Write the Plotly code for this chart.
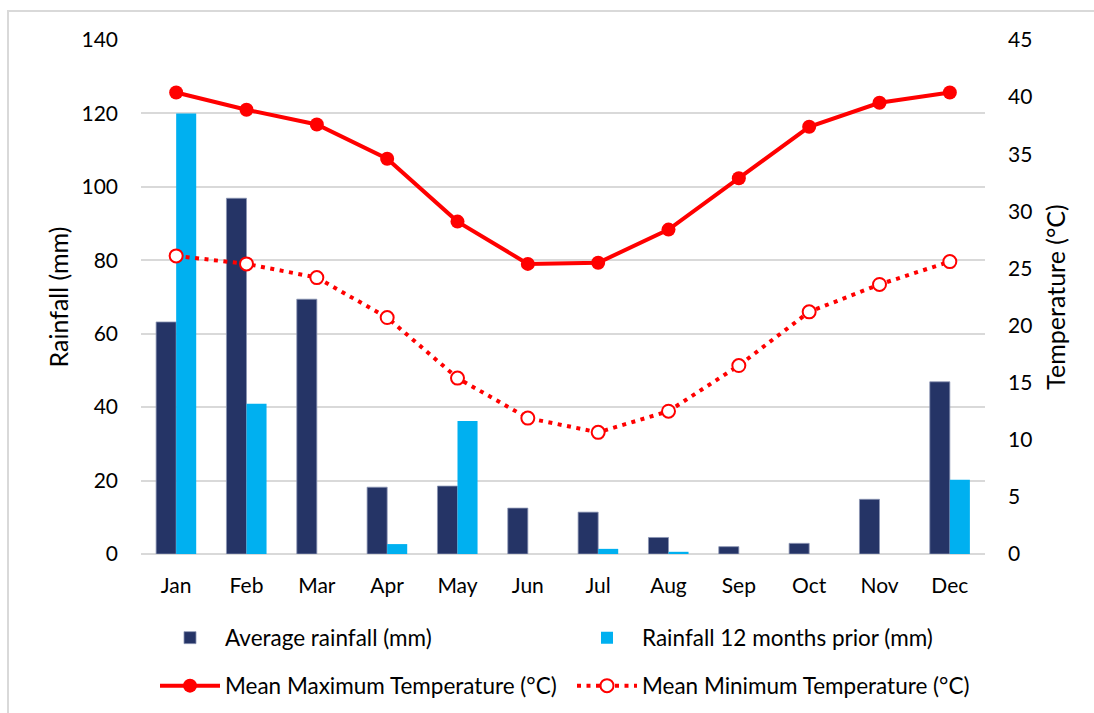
import plotly.graph_objects as go

# Monthly climate data
months = ["Jan", "Feb", "Mar", "Apr", "May", "Jun",
          "Jul", "Aug", "Sep", "Oct", "Nov", "Dec"]
avg_rainfall = [63.2, 96.9, 69.4, 18.2, 18.5, 12.5, 11.4, 4.5, 2.0, 2.9, 14.9, 46.9]
rain_prior = [120.0, 40.9, 0, 2.7, 36.2, 0, 1.4, 0.6, 0, 0, 0, 20.2]
mean_max = [40.4, 38.9, 37.6, 34.6, 29.1, 25.4, 25.5, 28.4, 32.9, 37.4, 39.5, 40.4]
mean_min = [26.1, 25.4, 24.2, 20.7, 15.4, 11.9, 10.65, 12.5, 16.5, 21.2, 23.6, 25.6]

FONT = "Lato"
GRID = "#d9d9d9"

# Plot-area geometry in pixels (used to place legend and frame in paper units)
W, H = 1094, 713
ML, MR, MT, MB = 141, 109, 40, 159
PW, PH = W - ML - MR, H - MT - MB


def px_x(px):
    return (px - ML) / PW


def px_y(py):
    return (H - MB - py) / PH


fig = go.Figure()

fig.add_trace(go.Bar(
    x=months, y=avg_rainfall, name="Average rainfall (mm)",
    marker=dict(color="#253466", line=dict(color="#8c95b4", width=0.8)),
    legend="legend",
))
fig.add_trace(go.Bar(
    x=months, y=rain_prior, name="Rainfall 12 months prior (mm)",
    marker=dict(color="#00b0f0", line=dict(width=0)),
    legend="legend",
))
fig.add_trace(go.Scatter(
    x=months, y=mean_max, name="Mean Maximum Temperature (°C)",
    yaxis="y2", mode="lines+markers",
    line=dict(color="#ff0000", width=4),
    marker=dict(color="#ff0000", size=14, line=dict(width=0)),
    legend="legend2",
))
fig.add_trace(go.Scatter(
    x=months, y=mean_min, name="Mean Minimum Temperature (°C)",
    yaxis="y2", mode="lines+markers",
    line=dict(color="#ff0000", width=4, dash="4px,5.5px"),
    marker=dict(color="#ffffff", size=13, line=dict(color="#ff0000", width=2)),
    legend="legend2",
))

tick_font = dict(family=FONT, size=21, color="#000000")
title_font = dict(family=FONT, size=25, color="#000000")
legend_font = dict(family=FONT, size=22.5, color="#000000")

fig.update_layout(
    width=W, height=H,
    margin=dict(l=ML, r=MR, t=MT, b=MB, pad=0, autoexpand=False),
    paper_bgcolor="#ffffff", plot_bgcolor="#ffffff",
    font=dict(family=FONT, size=21, color="#000000"),
    barmode="group", bargap=0.43, bargroupgap=0,
    xaxis=dict(
        type="category", range=[-0.5, 11.5], showgrid=False, showline=False,
        zeroline=False, ticks="", tickfont=tick_font, ticklabelstandoff=17,
    ),
    yaxis=dict(
        range=[0, 140], dtick=20, showgrid=True, gridcolor=GRID, gridwidth=1.5,
        zeroline=True, zerolinecolor=GRID, zerolinewidth=1.5,
        showline=False, ticks="", tickfont=tick_font, ticklabelstandoff=22,
        title=dict(text="Rainfall (mm)", font=title_font, standoff=5),
    ),
    yaxis2=dict(
        range=[0, 45], dtick=5, overlaying="y", side="right",
        showgrid=False, zeroline=False, showline=False, ticks="",
        tickfont=tick_font, ticklabelstandoff=22,
        title=dict(text="Temperature (°C)", font=title_font, standoff=16),
    ),
    legend=dict(
        orientation="h", x=px_x(155), xanchor="left",
        y=px_y(638), yanchor="middle",
        entrywidth=342, itemwidth=60,
        font=legend_font, bgcolor="rgba(0,0,0,0)",
    ),
    legend2=dict(
        orientation="h", x=px_x(155), xanchor="left",
        y=px_y(686), yanchor="middle",
        entrywidth=342, itemwidth=60,
        font=legend_font, bgcolor="rgba(0,0,0,0)",
    ),
    shapes=[dict(
        type="rect", xref="paper", yref="paper",
        x0=px_x(8), x1=px_x(1110), y0=px_y(11), y1=px_y(730),
        line=dict(color=GRID, width=2), fillcolor="rgba(0,0,0,0)", layer="below",
    )],
)

fig.write_html("out.html")
